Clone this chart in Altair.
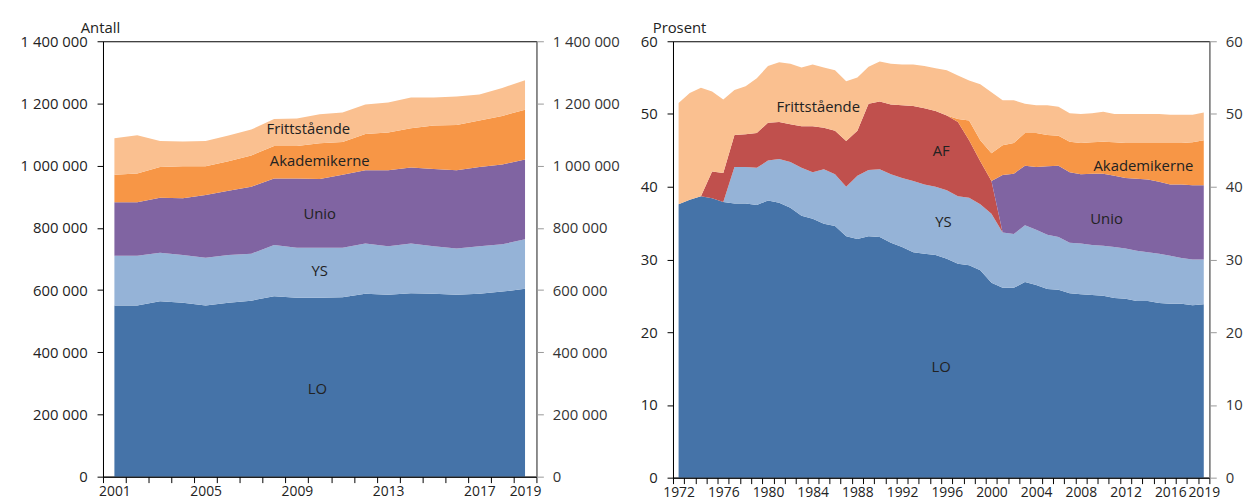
import altair as alt
import pandas as pd

# ---------------- Left panel: number of members (Antall) ----------------
years_a = list(range(2001, 2020))
lo_a = [550000, 550000, 564000, 559000, 550000, 559000, 566000, 580000, 575000, 575000,
        577000, 588000, 585000, 590000, 588000, 585000, 588000, 595000, 604000]
ys_a = [160000, 160000, 156000, 154000, 154000, 154000, 151000, 165000, 161000, 161000,
        159000, 162000, 156000, 160000, 153000, 149000, 153000, 152000, 159000]
unio_a = [172000, 172000, 177000, 182000, 202000, 206000, 215000, 214000, 223000, 221000,
          235000, 235000, 244000, 244000, 248000, 251000, 255000, 257000, 257000]
akad_a = [89000, 93000, 99000, 103000, 92000, 95000, 101000, 104000, 104000, 115000,
          105000, 117000, 122000, 126000, 140000, 146000, 149000, 156000, 160000]
fritt_a = [117000, 123000, 83000, 80000, 81000, 83000, 83000, 87000, 89000, 93000,
           95000, 95000, 96000, 99000, 90000, 91000, 84000, 90000, 95000]
xlabels_a = [2001, 2005, 2009, 2013, 2017, 2019]
yticks_a = [0, 200000, 400000, 600000, 800000, 1000000, 1200000, 1400000]
lab_names_a = ["Frittstående", "Akademikerne", "Unio", "YS", "LO"]
lab_x_a = [2009.5, 2010.0, 2010.0, 2010.0, 2009.9]
lab_y_a = [1117000, 1015000, 846000, 662000, 283000]

# ---------------- Right panel: percent (Prosent) ----------------
years_b = list(range(1972, 2020))
lo_b = [37.6, 38.2, 38.7, 38.4, 37.9, 37.7, 37.7, 37.5, 38.1, 37.8,
        37.1, 36.0, 35.6, 34.9, 34.6, 33.2, 32.8, 33.2, 33.1, 32.3,
        31.7, 31.0, 30.8, 30.6, 30.1, 29.4, 29.2, 28.5, 26.8, 26.1,
        26.1, 26.9, 26.5, 25.95, 25.85, 25.35, 25.2, 25.1, 25.0, 24.7,
        24.6, 24.3, 24.3, 24.0, 23.9, 23.9, 23.7, 23.85]
ys_b = [0, 0, 0, 0, 0, 5.0, 5.0, 5.1, 5.5, 6.0,
        6.3, 6.6, 6.4, 7.5, 7.1, 6.8, 8.7, 9.1, 9.3, 9.4,
        9.5, 9.8, 9.5, 9.4, 9.4, 9.3, 9.3, 9.1, 9.5, 7.6,
        7.4, 7.8, 7.6, 7.45, 7.25, 6.95, 7.0, 6.9, 6.9, 7.0,
        6.9, 6.9, 6.7, 6.8, 6.6, 6.3, 6.3, 6.15]
af_b = [0, 0, 0, 3.7, 4.0, 4.4, 4.5, 4.8, 5.2, 5.1,
        5.2, 5.7, 6.3, 5.7, 6.0, 6.3, 6.2, 9.1, 9.3, 9.6,
        10.0, 10.3, 10.5, 10.4, 10.3, 10.2, 7.9, 5.9, 4.5, 0,
        0, 0, 0, 0, 0, 0, 0, 0, 0, 0,
        0, 0, 0, 0, 0, 0, 0, 0]
unio_b = [0] * 29 + [7.9, 8.3, 8.2, 8.6, 9.4, 9.8, 9.7, 9.5, 9.8, 9.9,
                     9.8, 9.7, 9.9, 10.0, 9.9, 9.8, 10.1, 10.2, 10.2]
akad_b = [0] * 25 + [0.4, 2.7, 2.9, 3.8, 4.1, 4.2, 4.5, 4.7, 4.3, 4.1,
                     4.2, 4.3, 4.3, 4.4, 4.6, 4.8, 4.9, 5.0, 5.3, 5.7,
                     5.7, 5.9, 6.2]
fritt_b = [13.9, 14.7, 14.9, 11.0, 10.1, 6.2, 6.6, 7.5, 7.8, 8.2,
           8.3, 8.1, 8.5, 8.3, 8.3, 8.2, 7.3, 5.1, 5.5, 5.6,
           5.6, 5.7, 5.8, 5.9, 6.2, 6.0, 5.5, 7.7, 8.4, 6.2,
           5.9, 4.0, 3.8, 4.1, 4.0, 3.9, 4.0, 4.0, 4.1, 3.9,
           4.0, 4.0, 4.0, 4.0, 3.9, 3.9, 3.8, 3.8]
xlabels_b = [1972, 1976, 1980, 1984, 1988, 1992, 1996, 2000, 2004, 2008, 2012, 2016, 2019]
yticks_b = [0, 10, 20, 30, 40, 50, 60]
lab_names_b = ["Frittstående", "AF", "YS", "Akademikerne", "Unio", "LO"]
lab_x_b = [1984.5, 1995.5, 1995.7, 2013.6, 2010.3, 1995.5]
lab_y_b = [51.0, 44.9, 35.2, 42.9, 35.6, 15.2]

series_all = ["LO", "YS", "AF", "Unio", "Akademikerne", "Frittstående"]
colors_all = ["#4573A8", "#95B3D7", "#C0504D", "#8064A2", "#F79646", "#FAC090"]

FONT = "Open Sans"
FS = 15
XFS = 14
TXT = "#222222"


def long_df(years, series):
    rows = []
    for name, vals in series:
        for y, v in zip(years, vals):
            rows.append({"year": y, "value": v, "series": name,
                         "order": series_all.index(name)})
    return pd.DataFrame(rows)


def panel(df, labels, years, xlabels, yticks, ylabel_expr, title, tx, ty, w, h, ymax):
    n = len(years)
    band = w / n
    x0 = years[0] - 0.5
    x1 = years[-1] + 0.5
    xticks = [x0 + i for i in range(n + 1)]
    lab_list = ",".join(str(v) for v in xlabels)
    xexpr = f"indexof([{lab_list}], datum.value + 0.5) >= 0 ? toString(datum.value + 0.5) : ''"
    xscale = alt.Scale(domain=[x0, x1], nice=False, zero=False)
    xenc = alt.X("year:Q", scale=xscale,
                 axis=alt.Axis(values=xticks, labelExpr=xexpr, labelOffset=band / 2,
                               title=None, grid=False, tickSize=6, labelPadding=2,
                               domainColor="#000", tickColor="#000", labelOverlap=False,
                               labelFlush=False, labelBound=False, zindex=1,
                               labelFont=FONT, labelFontSize=XFS, labelColor=TXT))
    yscale = alt.Scale(domain=[0, ymax], nice=False)
    area = alt.Chart(df).mark_area(interpolate="linear").encode(
        x=xenc,
        y=alt.Y("value:Q", stack="zero", scale=yscale,
                axis=alt.Axis(values=yticks, labelExpr=ylabel_expr, grid=False,
                              tickSize=6, labelPadding=10, domainColor="#000",
                              tickColor="#000", title=title, titleAngle=0,
                              titleAlign="left", titleBaseline="alphabetic",
                              titleX=tx, titleY=ty, titleFont=FONT, titleFontSize=FS,
                              titleFontWeight="normal", titleColor=TXT, zindex=1,
                              labelFont=FONT, labelFontSize=FS, labelColor=TXT)),
        color=alt.Color("series:N", scale=alt.Scale(domain=series_all, range=colors_all),
                        legend=None),
        order=alt.Order("order:Q"),
    )
    text = alt.Chart(labels).mark_text(font=FONT, fontSize=FS, color=TXT,
                                       align="center", baseline="middle").encode(
        x=xenc,
        y=alt.Y("y:Q", scale=yscale, axis=None),
        text="name:N",
    )
    right = alt.Chart(df).mark_point(opacity=0).encode(
        y=alt.Y("value:Q", scale=yscale,
                axis=alt.Axis(orient="right", values=yticks, labelExpr=ylabel_expr,
                              grid=False, tickSize=7, labelPadding=9,
                              domainColor="#999999", tickColor="#999999",
                              labelColor="#333333", title=None, zindex=1,
                              labelFont=FONT, labelFontSize=FS)),
    )
    return alt.layer(area, text, right).resolve_scale(y="independent").properties(
        width=w, height=h)


df_a = long_df(years_a, [("LO", lo_a), ("YS", ys_a), ("Unio", unio_a),
                         ("Akademikerne", akad_a), ("Frittstående", fritt_a)])
df_b = long_df(years_b, [("LO", lo_b), ("YS", ys_b), ("AF", af_b), ("Unio", unio_b),
                         ("Akademikerne", akad_b), ("Frittstående", fritt_b)])
lab_a = pd.DataFrame({"name": lab_names_a, "year": lab_x_a, "y": lab_y_a})
lab_b = pd.DataFrame({"name": lab_names_b, "year": lab_x_b, "y": lab_y_b})

space_expr = "replace(format(datum.value, ','), regexp(',', 'g'), ' ')"

left = panel(df_a, lab_a, years_a, xlabels_a, yticks_a, space_expr,
             "Antall", -23, -9, 438, 440, 1400000)
rightp = panel(df_b, lab_b, years_b, xlabels_b, yticks_b, "format(datum.value, 'd')",
               "Prosent", -21, -9, 542, 441, 60)

chart = alt.hconcat(left, rightp, spacing=19).properties(
    padding={"left": 11, "top": 9, "right": 0, "bottom": 0},
    background="white",
).configure_view(stroke="#000000", strokeWidth=1).configure_axis(
    labelFont=FONT, labelFontSize=FS, labelColor=TXT, domainWidth=1, tickWidth=1
)

chart.save("out.html", embed_options={"renderer": "svg", "actions": False})
